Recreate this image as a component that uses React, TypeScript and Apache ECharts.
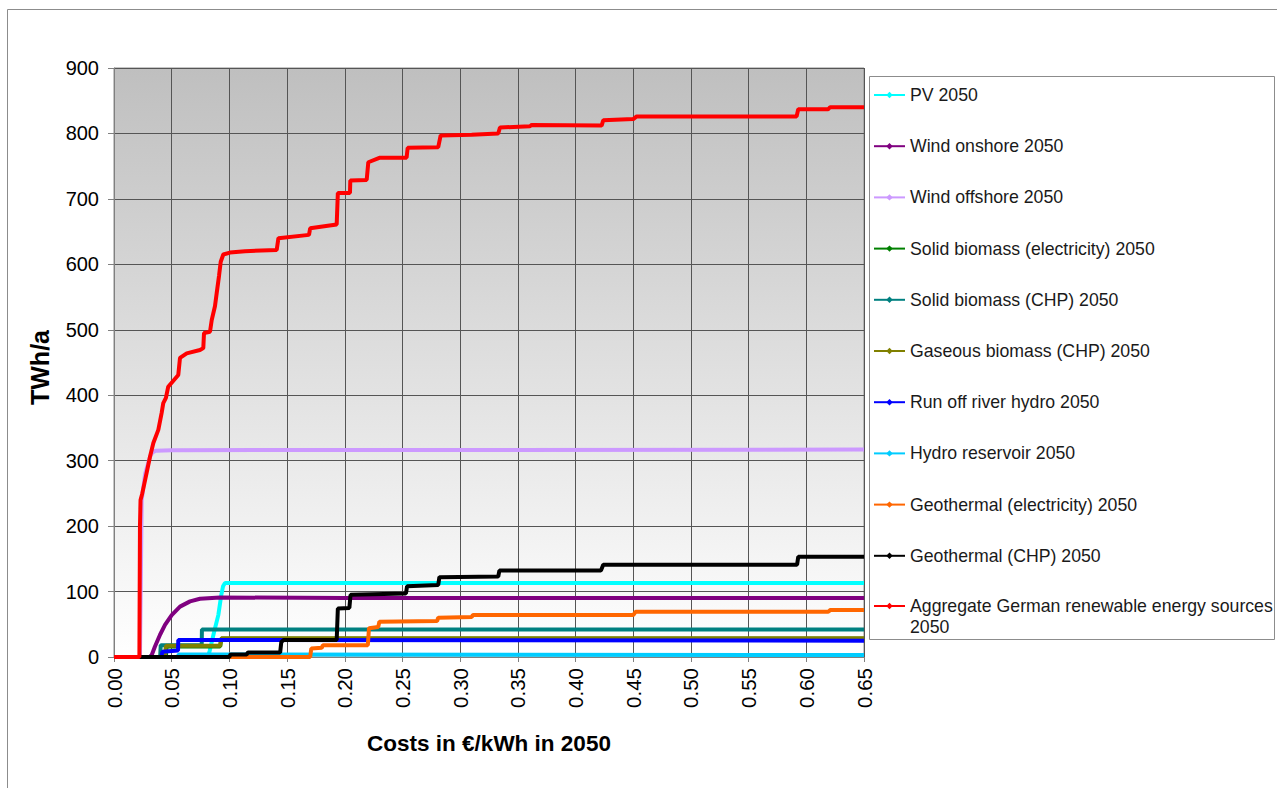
import React, { useEffect, useRef } from "react";
import * as echarts from "echarts";

// ---- data (cost in €/kWh, TWh/a) ----
const xTicks = { min: 0, max: 0.65, interval: 0.05 };
const yTicks = { min: 0, max: 900, interval: 100 };

const seriesNames = [
  "PV 2050",
  "Wind onshore 2050",
  "Wind offshore 2050",
  "Solid biomass (electricity) 2050",
  "Solid biomass (CHP) 2050",
  "Gaseous biomass (CHP) 2050",
  "Run off river hydro 2050",
  "Hydro reservoir 2050",
  "Geothermal (electricity) 2050",
  "Geothermal (CHP) 2050",
  "Aggregate German renewable energy sources 2050",
];

const seriesColors = [
  "#00ffff",
  "#800080",
  "#cc99ff",
  "#008000",
  "#008080",
  "#808000",
  "#0000ff",
  "#00ccff",
  "#ff6600",
  "#000000",
  "#ff0000",
];

const pv = [
  [0, 0], [0.0815, 0], [0.083, 10], [0.087, 40], [0.0904, 64], [0.093, 95], [0.0945, 108], [0.0962, 113], [0.65, 113],
];
const windOnshore = [
  [0, 0], [0.031, 0], [0.0327, 3], [0.0355, 16], [0.0399, 34], [0.0442, 49], [0.05, 64], [0.0572, 77],
  [0.0659, 85], [0.0745, 89], [0.0919, 91], [0.2, 90], [0.65, 90],
];
const windOffshore = [
  [0, 0], [0.0225, 0], [0.024, 240], [0.027, 280], [0.0312, 306], [0.033, 312], [0.036, 315], [0.05, 316], [0.65, 317],
];
const solidBiomassElec = [
  [0, 0], [0.045, 0], [0.0455, 16], [0.092, 16], [0.093, 28], [0.65, 28],
];
const solidBiomassCHP = [
  [0, 0], [0.04, 0], [0.0405, 18], [0.076, 18], [0.0762, 42], [0.65, 42],
];
const gaseousBiomass = [
  [0, 0], [0.044, 0], [0.045, 17], [0.092, 17], [0.093, 28.5], [0.65, 28.5],
];
const runOffRiver = [
  [0, 0], [0.041, 0], [0.042, 8], [0.0555, 10], [0.0557, 26], [0.65, 25],
];
const hydroReservoir = [
  [0, 0], [0.0555, 0], [0.056, 4], [0.65, 3],
];
const geoElec = [
  [0, 0], [0.17, 0], [0.171, 13], [0.18, 14], [0.181, 18], [0.22, 18], [0.221, 44], [0.229, 46], [0.23, 54],
  [0.28, 55], [0.281, 60], [0.31, 61], [0.311, 64], [0.45, 64], [0.452, 69], [0.619, 69], [0.621, 72], [0.65, 72],
];
const geoCHP = [
  [0, 0], [0.1, 0], [0.101, 4], [0.115, 4], [0.116, 7], [0.144, 7], [0.145, 23], [0.147, 26], [0.193, 26],
  [0.194, 74], [0.204, 75], [0.205, 95], [0.253, 97], [0.254, 108], [0.281, 110], [0.282, 122], [0.333, 123],
  [0.334, 132], [0.422, 132], [0.424, 141], [0.592, 141], [0.593, 153], [0.65, 153],
];
const aggregate = [
  [0, 0], [0.022, 0], [0.0225, 200], [0.023, 240], [0.0245, 250], [0.0269, 270], [0.0312, 306], [0.0341, 327],
  [0.0384, 347], [0.0413, 373], [0.0427, 388], [0.045, 396], [0.047, 413], [0.0557, 431], [0.0572, 457],
  [0.063, 464], [0.0745, 469], [0.0774, 472], [0.078, 495], [0.0832, 497], [0.0847, 515], [0.0875, 536],
  [0.089, 556], [0.091, 582], [0.0925, 604], [0.0947, 615], [0.1005, 618], [0.1135, 620], [0.141, 622],
  [0.1425, 640], [0.169, 645], [0.17, 655], [0.193, 661], [0.194, 709], [0.2045, 709], [0.2048, 728],
  [0.219, 729], [0.2204, 756], [0.2305, 763], [0.2536, 763], [0.2545, 778], [0.281, 779], [0.2831, 797],
  [0.31, 798], [0.333, 800], [0.3345, 809], [0.3605, 811], [0.362, 813], [0.4226, 812], [0.424, 820],
  [0.45, 822], [0.453, 826], [0.5916, 826], [0.593, 837], [0.619, 837], [0.6205, 840], [0.65, 840],
];

const seriesData = [
  pv, windOnshore, windOffshore, solidBiomassElec, solidBiomassCHP, gaseousBiomass,
  runOffRiver, hydroReservoir, geoElec, geoCHP, aggregate,
];

const xTitle = "Costs in €/kWh in 2050";
const yTitle = "TWh/a";

const FONT = "Arial, 'Liberation Sans', sans-serif";

export default function App() {
  const ref = useRef<HTMLDivElement>(null);

  useEffect(() => {
    if (!ref.current) return;
    const chart = echarts.init(ref.current, undefined, { renderer: "svg" });

    const lastName = seriesNames[seriesNames.length - 1];
    const legendText = { fontFamily: FONT, fontSize: 17.7, color: "#1a1a1a", lineHeight: 21 };
    const legendCommon = {
      orient: "vertical",
      left: 873,
      padding: 0,
      itemWidth: 31,
      itemHeight: 8,
      itemGap: 30.2,
      textStyle: legendText,
    };

    const option: any = {
      animation: false,
      backgroundColor: "#ffffff",
      graphic: [
        {
          type: "rect",
          z: 0,
          shape: { x: 7.5, y: 9.5, width: 1275, height: 790 },
          style: { fill: "none", stroke: "#8c8c8c", lineWidth: 1 },
          silent: true,
        },
        {
          type: "rect",
          z: 0,
          shape: { x: 869.5, y: 76.5, width: 405, height: 563 },
          style: { fill: "#ffffff", stroke: "#8c8c8c", lineWidth: 1 },
          silent: true,
        },
      ],
      grid: {
        left: 114,
        top: 68,
        right: 1277 - 864,
        bottom: 788 - 657,
        show: true,
        borderColor: "#8c8c8c",
        borderWidth: 1,
        backgroundColor: {
          type: "linear",
          x: 0, y: 0, x2: 0, y2: 1,
          colorStops: [
            { offset: 0, color: "#bfbfbf" },
            { offset: 1, color: "#ffffff" },
          ],
        },
      },
      legend: [
        {
          ...legendCommon,
          top: 84.5,
          data: seriesNames.slice(0, seriesNames.length - 1),
        },
        {
          ...legendCommon,
          top: 574.5,
          data: [lastName],
          formatter: (name: string) => "\n" + name.replace(/ 2050$/, "\n2050"),
        },
      ],
      xAxis: {
        type: "value",
        min: xTicks.min,
        max: xTicks.max,
        interval: xTicks.interval,
        name: xTitle,
        nameLocation: "middle",
        nameGap: 75,
        nameTextStyle: { fontFamily: FONT, fontSize: 22.5, fontWeight: "bold", color: "#000" },
        axisLine: { show: true, lineStyle: { color: "#808080" } },
        axisTick: { show: true, length: 5, lineStyle: { color: "#808080" } },
        axisLabel: {
          rotate: 90,
          margin: 11,
          fontFamily: FONT,
          fontSize: 20.5,
          color: "#000",
          formatter: (v: number) => v.toFixed(2),
        },
        splitLine: { show: true, lineStyle: { color: "#555555", width: 1 } },
      },
      yAxis: {
        type: "value",
        min: yTicks.min,
        max: yTicks.max,
        interval: yTicks.interval,
        name: yTitle,
        nameLocation: "middle",
        nameGap: 62,
        nameRotate: 90,
        nameTextStyle: { fontFamily: FONT, fontSize: 25, fontWeight: "bold", color: "#000", padding: [0, 10, 0, 0] },
        axisLine: { show: true, lineStyle: { color: "#808080" } },
        axisTick: { show: true, length: 6, lineStyle: { color: "#808080" } },
        axisLabel: { margin: 15, fontFamily: FONT, fontSize: 20, color: "#000" },
        splitLine: { show: true, lineStyle: { color: "#555555", width: 1 } },
      },
      series: seriesNames.map((name, i) => ({
        name,
        type: "line",
        data: seriesData[i],
        color: seriesColors[i],
        symbol: "diamond",
        symbolSize: 5,
        showSymbol: false,
        lineStyle: { width: 4, color: seriesColors[i] },
        itemStyle: { color: seriesColors[i] },
        clip: true,
        silent: true,
      })),
    };

    chart.setOption(option);
    return () => chart.dispose();
  }, []);

  return (
    <div
      ref={ref}
      style={{ position: "absolute", left: 0, top: 0, width: 1277, height: 788 }}
    />
  );
}
